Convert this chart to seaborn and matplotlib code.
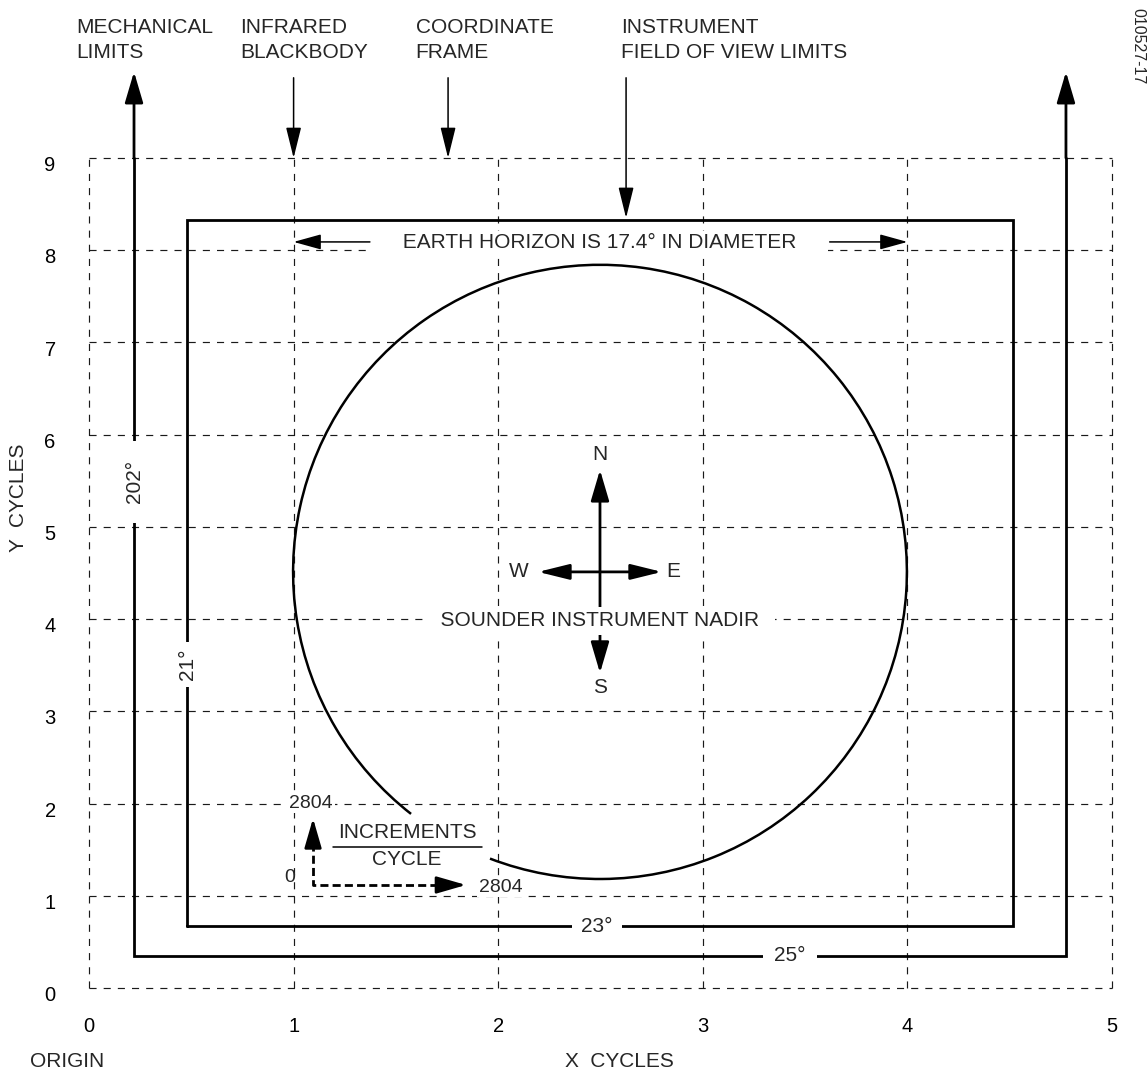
import numpy as np
import matplotlib
matplotlib.use("Agg")
import matplotlib.pyplot as plt
from matplotlib.patches import Arc
from matplotlib.transforms import ScaledTranslation
import seaborn as sns

# ---------------- data ----------------
x_ticks = [0, 1, 2, 3, 4, 5]
y_ticks = [0, 1, 2, 3, 4, 5, 6, 7, 8, 9]
x_labels = ["0", "1", "2", "3", "4", "5"]
y_labels = ["0", "1", "2", "3", "4", "5", "6", "7", "8", "9"]

mech_x = [0.22, 4.775]        # mechanical limits (25 deg x 202 deg)
mech_y = [0.347, 9.935]
fov_x = [0.479, 4.516]        # instrument field of view (23 deg x 21 deg)
fov_y = [0.672, 8.33]
horizon_center = [2.4975, 4.512]
horizon_size = [3.0, 6.66]    # earth disc, 17.4 deg
horizon_gap_deg = [232, 249]  # gap in the outline behind the scale label
increments_per_cycle = 2804

sns.set_theme(style="white")
plt.rcParams["font.family"] = ["Liberation Sans", "DejaVu Sans"]

W, H = 1148, 1073
fig = plt.figure(figsize=(W / 100, H / 100), dpi=100)
ax = fig.add_axes([89 / W, 85 / H, 1023 / W, 830 / H])
ax.set_xlim(0, 5)
ax.set_ylim(0, 9)
ax.set_xticks(x_ticks)
ax.set_xticklabels(x_labels)
ax.set_yticks(y_ticks)
ax.set_yticklabels(y_labels)
for s in ax.spines.values():
    s.set_visible(False)
ax.tick_params(axis="both", length=0, labelsize=14.5, colors="black")
ax.tick_params(axis="x", pad=21)
ax.tick_params(axis="y", pad=24)
shift = ScaledTranslation(0, -4 / 72, fig.dpi_scale_trans)
for lab in ax.get_yticklabels():
    lab.set_transform(lab.get_transform() + shift)
ax.set_axisbelow(True)
ax.grid(True, color="#1a1a1a", lw=0.85, ls=(0, (6, 6)))
for gl in ax.get_xgridlines() + ax.get_ygridlines():
    gl.set_clip_on(False)

FS = 15
K = "black"

def arrow(tip, tail, lw=1.1, hl=19, hw=4.7, style="-|>", z=3):
    ax.annotate("", xy=tip, xytext=tail, annotation_clip=False,
                arrowprops=dict(arrowstyle=f"{style},head_length={hl},head_width={hw}",
                                mutation_scale=1, color=K, lw=lw,
                                shrinkA=0, shrinkB=0), zorder=z)

# ---- mechanical limits ----
sns.lineplot(x=[mech_x[0], mech_x[0], mech_x[1], mech_x[1]],
             y=[9.0, mech_y[0], mech_y[0], 9.0],
             sort=False, estimator=None, color=K, lw=2.0, ax=ax,
             clip_on=False, zorder=3, solid_joinstyle="miter")
arrow((mech_x[0], mech_y[1]), (mech_x[0], 9.0), lw=2.0, hl=19, hw=5.6)
arrow((mech_x[1], mech_y[1]), (mech_x[1], 9.0), lw=2.0, hl=19, hw=5.6)

# ---- instrument field of view ----
sns.lineplot(x=[fov_x[0], fov_x[1], fov_x[1], fov_x[0], fov_x[0]],
             y=[fov_y[0], fov_y[0], fov_y[1], fov_y[1], fov_y[0]],
             sort=False, estimator=None, color=K, lw=2.0, ax=ax,
             clip_on=False, zorder=3, solid_joinstyle="miter")

# ---- earth horizon ----
a, b = horizon_size[0] / 2, horizon_size[1] / 2
def data_angle(phi):
    p = np.deg2rad(phi)
    return np.rad2deg(np.arctan2(b * np.sin(p), a * np.cos(p))) % 360
ax.add_patch(Arc(horizon_center, horizon_size[0], horizon_size[1],
                 theta1=data_angle(horizon_gap_deg[1]),
                 theta2=data_angle(horizon_gap_deg[0]),
                 color=K, lw=1.8, zorder=3))

# ---- labels on the limit lines ----
box = lambda p: dict(boxstyle=f"square,pad={p}", fc="white", ec="none")
ax.text(mech_x[0], 5.488, "202°", rotation=90, ha="center", va="center",
        fontsize=FS, bbox=box(0.95), zorder=5)
ax.text(fov_x[0], 3.509, "21°", rotation=90, ha="center", va="center",
        fontsize=FS, bbox=box(0.33), zorder=5)
ax.text(2.483, fov_y[0], "23°", ha="center", va="center",
        fontsize=FS, bbox=box(0.45), zorder=5)
ax.text(3.426, mech_y[0], "25°", ha="center", va="center",
        fontsize=FS, bbox=box(0.55), zorder=5)

# ---- earth horizon diameter text ----
ax.text(2.497, 8.08, "     EARTH HORIZON IS 17.4° IN DIAMETER     ",
        ha="center", va="center", fontsize=FS, bbox=box(0.1), zorder=2)
arrow((1.0, 8.09), (1.373, 8.09), lw=1.1, hl=17, hw=4.7)
arrow((4.0, 8.09), (3.62, 8.09), lw=1.1, hl=17, hw=4.7)

# ---- compass ----
cx, cy = horizon_center
arrow((cx, 5.618), (cx, 3.416), lw=2.0, hl=19, hw=5.6, style="<|-|>", z=2)
arrow((2.80, cy), (2.195, cy), lw=2.0, hl=19, hw=4.7, style="<|-|>", z=2)
ax.text(cx, 5.78, "N", ha="center", va="center", fontsize=FS)
ax.text(cx, 3.254, "S", ha="center", va="center", fontsize=FS)
ax.text(2.10, cy, "W", ha="center", va="center", fontsize=FS)
ax.text(2.854, cy, "E", ha="center", va="center", fontsize=FS)
ax.text(cx, 3.98, "  SOUNDER INSTRUMENT NADIR  ", ha="center", va="center",
        fontsize=FS, bbox=box(0.2), zorder=2.5)

# ---- increments per cycle scale ----
sns.lineplot(x=[1.095, 1.095, 1.711], y=[1.573, 1.117, 1.117],
             sort=False, estimator=None, color=K, lw=2.0, ax=ax,
             ls=(0, (2.9, 1.5)), zorder=3)
arrow((1.095, 1.84), (1.095, 1.56), lw=2.0, hl=18, hw=5.2)
arrow((1.843, 1.117), (1.70, 1.117), lw=2.0, hl=18, hw=5.2)
ax.text(1.085, 2.006, f"{increments_per_cycle}", ha="center", va="center",
        fontsize=14, bbox=box(0.1), zorder=4)
ax.text(2.013, 1.095, f"{increments_per_cycle}", ha="center", va="center",
        fontsize=14, bbox=box(0.1), zorder=4)
ax.text(0.982, 1.193, "0", ha="center", va="center", fontsize=14)
ax.text(1.554, 1.681, "INCREMENTS", ha="center", va="center", fontsize=FS)
ax.text(1.554, 1.388, "CYCLE", ha="center", va="center", fontsize=FS)
sns.lineplot(x=[1.193, 1.921], y=[1.529, 1.529], color=K, lw=1.1, ax=ax)

# ---- callouts at top ----
top_y = 10.282
for x0, lab in [(-0.06, "MECHANICAL\nLIMITS"), (0.737, "INFRARED\nBLACKBODY"),
                (1.597, "COORDINATE\nFRAME"), (2.599, "INSTRUMENT\nFIELD OF VIEW LIMITS")]:
    ax.text(x0, top_y, lab, ha="left", va="center", fontsize=FS, linespacing=1.42)
arrow((1.0, 9.0), (1.0, 9.87))
arrow((1.755, 9.0), (1.755, 9.87))
arrow((2.625, 8.35), (2.625, 9.87))
ax.text(5.127, 10.21, "010527-17", rotation=-90, ha="center", va="center",
        fontsize=11.5)

# ---- axis titles ----
ax.text(-0.347, 5.315, "Y  CYCLES", rotation=90, ha="center", va="center", fontsize=FS)
ax.text(2.595, -0.80, "X  CYCLES", ha="center", va="center", fontsize=FS)
ax.text(-0.29, -0.80, "ORIGIN", ha="left", va="center", fontsize=FS)

ax.set_xlabel("")
ax.set_ylabel("")
fig.savefig("out.png", dpi=100)
